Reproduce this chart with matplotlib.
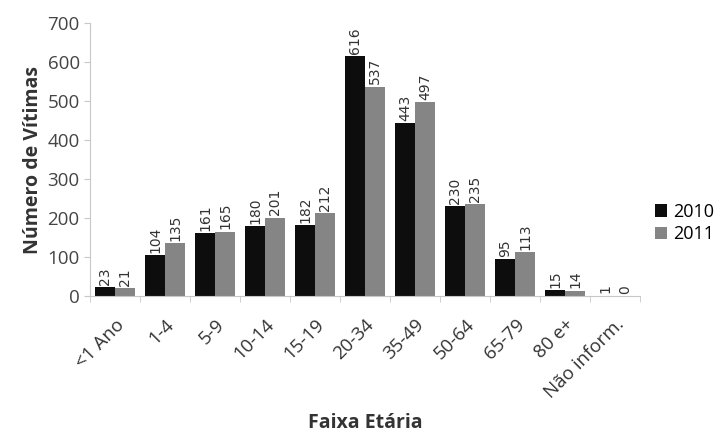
import matplotlib
matplotlib.use("Agg")
import matplotlib.pyplot as plt
import numpy as np

faixas = ["<1 Ano", "1-4", "5-9", "10-14", "15-19", "20-34", "35-49",
          "50-64", "65-79", "80 e+", "Não inform."]
v2010 = [23, 104, 161, 180, 182, 616, 443, 230, 95, 15, 1]
v2011 = [21, 135, 165, 201, 212, 537, 497, 235, 113, 14, 0]

plt.rcParams["font.family"] = ["Open Sans", "DejaVu Sans"]

fig = plt.figure(figsize=(7.21, 4.36), dpi=100)
ax = fig.add_axes([0.125, 0.321, 0.763, 0.626])

x = np.arange(len(faixas))
w = 0.4
b1 = ax.bar(x - w / 2, v2010, w, color="#0d0d0d", label="2010")
b2 = ax.bar(x + w / 2, v2011, w, color="#858585", label="2011")

for bars in (b1, b2):
    for r in bars:
        ax.text(r.get_x() + r.get_width() / 2, r.get_height() + 6,
                str(int(r.get_height())), rotation=90, ha="center", va="bottom",
                fontsize=10, color="#333333", family="DejaVu Sans")

ax.set_xlim(-0.5, len(faixas) - 0.5)
ax.set_ylim(0, 700)
ax.set_yticks(range(0, 701, 100))
ax.set_xticks(x)
ax.set_xticklabels(faixas, rotation=45, ha="right", rotation_mode="anchor",
                   fontsize=13.5, color="#333333")
ax.set_xticks(np.arange(-0.5, len(faixas), 1), minor=True)
ax.tick_params(axis="x", which="major", length=0, pad=14)
ax.tick_params(axis="x", which="minor", length=4, color="#c8c8c8")
ax.tick_params(axis="y", length=4, color="#c8c8c8", labelsize=13.5,
               labelcolor="#444444")

for s in ("top", "right"):
    ax.spines[s].set_visible(False)
for s in ("left", "bottom"):
    ax.spines[s].set_color("#c8c8c8")

ax.set_ylabel("Número de Vítimas", fontsize=14, fontweight="bold",
              color="#333333", labelpad=3)
ax.set_xlabel("Faixa Etária", fontsize=14, fontweight="bold",
              color="#333333", labelpad=8)

ax.legend(loc="center left", bbox_to_anchor=(1.0, 0.267), frameon=False,
          fontsize=13, handlelength=0.7, handleheight=0.7,
          handletextpad=0.3, labelspacing=0.25, borderaxespad=0.5,
          borderpad=0.3)

plt.savefig("out.png", dpi=100)
